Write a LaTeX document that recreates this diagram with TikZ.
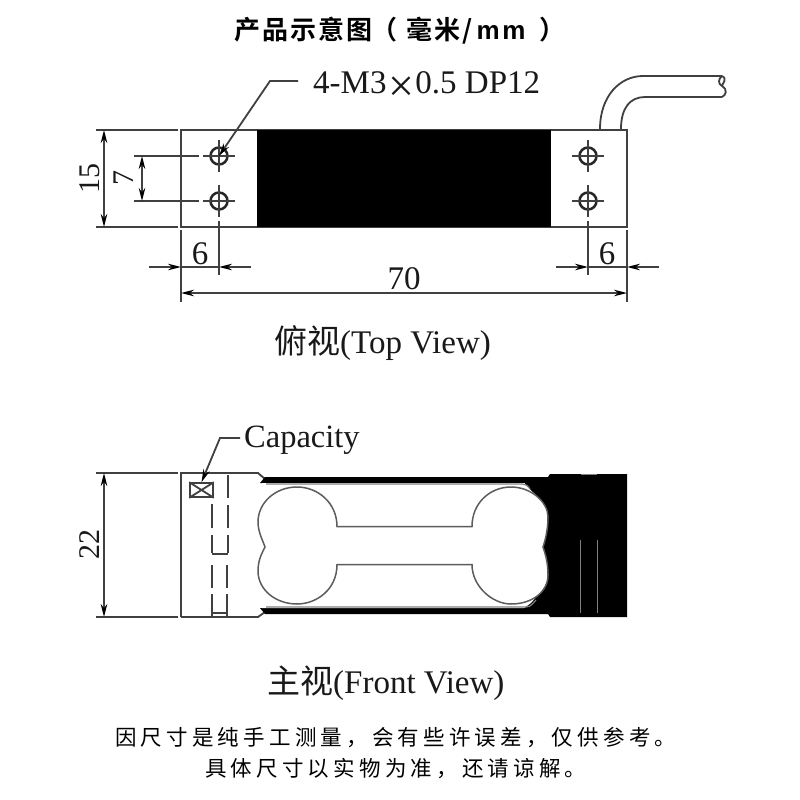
\documentclass[tikz,border=0pt]{standalone}
\usepackage{fontspec}
\setmainfont{Liberation Serif}
\newfontfamily\cjk{Noto Sans CJK SC}
\newfontfamily\cjkbody[LetterSpace=19.5]{Noto Sans CJK SC}
\newfontfamily\cjktitle[LetterSpace=8]{Noto Sans CJK SC Bold}
\newfontfamily\latintitle[LetterSpace=10]{Liberation Sans Bold}
\usetikzlibrary{arrows.meta}
\definecolor{ink}{gray}{0.25}
\tikzset{
  x=1pt,y=-1pt,
  ln/.style={draw=ink,line width=1.8pt},
  dim/.style={ln,{Stealth[length=13pt,width=6.5pt,color=black]}-{Stealth[length=13pt,width=6.5pt,color=black]}},
  tipr/.style={ln,-{Stealth[length=13pt,width=6.5pt,color=black]}},
  lbl/.style={inner sep=0pt,text=black!90,font=\fontsize{33}{33}\selectfont},
  rlbl/.style={inner sep=0pt,text=black!90,rotate=90,font=\fontsize{30}{30}\selectfont},
  hole/.style={circle,draw=black!85,line width=2.5pt,minimum size=17pt,inner sep=0pt},
  cl/.style={draw=ink,line width=1.3pt},
  body/.style={inner sep=0pt,font=\fontsize{21.5}{24}\selectfont\cjkbody},
}
\newcommand{\holeat}[3]{%
  \node[hole] (#1) at (#2,#3) {};
  \draw[cl] (#2-16,#3)--(#2+16,#3) (#2,#3-16)--(#2,#3+16);
}
\begin{document}
\begin{tikzpicture}
\useasboundingbox (0,0) rectangle (800,800);
\fill[white] (0,0) rectangle (800,800);
\node[inner sep=0pt,anchor=west] (title) at (234,31) {\fontsize{26}{26}\selectfont\cjktitle 产品示意图\kern-1pt（\kern9pt 毫米/\kern4pt\latintitle mm\kern14pt\cjktitle ）};
% top view
\draw[ln] (181,130) rectangle (627,227);
\fill[black] (257,130) rectangle (551,227);
\holeat{h1}{219}{156}
\holeat{h2}{219}{201}
\holeat{h3}{588}{156}
\holeat{h4}{588}{201}
% cable
\draw[ln] (600,129) .. controls (600,96) and (620,76) .. (643,76) -- (722,76);
\draw[ln] (621,129) .. controls (621,108) and (630,97) .. (645,97) -- (722,97);
\draw[ln] (722,76) .. controls (728,79) and (722,84) .. (722,86) .. controls (728,90) and (726,95) .. (722,97) (722,76) .. controls (718,79) and (718,84) .. (722,86);
% leader
\coordinate (k1) at (270,81);
\coordinate (k2) at (298,81);
\draw[tipr] (k2)--(k1)--(h1.center);
\node[lbl,anchor=base west] (spec) at (313,93) {4-M3\kern1.5pt\raisebox{-8pt}{\fontsize{46}{46}\selectfont ×}\kern1.5pt 0.5 DP12};
% dims top view
\coordinate (a1) at (96,130); \coordinate (a2) at (178,130);
\coordinate (a3) at (96,227); \coordinate (a4) at (178,227);
\draw[ln] (a1)--(a2) (a3)--(a4);
\coordinate (d15a) at (104,130); \coordinate (d15b) at (104,227);
\draw[dim] (d15a)--(d15b);
\node[rlbl] (n15) at (90,178) {15};
\coordinate (b1) at (134,156); \coordinate (b2) at (199,156);
\coordinate (b3) at (134,201); \coordinate (b4) at (199,201);
\draw[ln] (b1)--(b2) (b3)--(b4);
\coordinate (d7a) at (142,156); \coordinate (d7b) at (142,201);
\draw[dim] (d7a)--(d7b);
\node[rlbl] (n7) at (124,178) {7};
\coordinate (v1) at (181,230); \coordinate (v2) at (181,302);
\coordinate (v3) at (219,221); \coordinate (v4) at (219,275);
\coordinate (v5) at (588,221); \coordinate (v6) at (588,275);
\coordinate (v7) at (627,230); \coordinate (v8) at (627,302);
\draw[ln] (v1)--(v2) (v3)--(v4) (v5)--(v6) (v7)--(v8);
\coordinate (e1) at (149,267); \coordinate (e2) at (181,267);
\coordinate (e3) at (251,267); \coordinate (e4) at (219,267);
\draw[tipr] (e1)--(e2); \draw[tipr] (e3)--(e4); \draw[ln] (e2)--(e4);
\coordinate (f1) at (556,267); \coordinate (f2) at (588,267);
\coordinate (f3) at (659,267); \coordinate (f4) at (627,267);
\draw[tipr] (f1)--(f2); \draw[tipr] (f3)--(f4); \draw[ln] (f2)--(f4);
\node[lbl] (n6a) at (200,254) {6};
\node[lbl] (n6b) at (607,254) {6};
\coordinate (g1) at (181,293); \coordinate (g2) at (627,293);
\draw[dim] (g1)--(g2);
\node[lbl] (n70) at (404,279) {70};
\node[lbl,anchor=west] (cap1) at (274,343) {{\cjk\fontsize{33}{33}\selectfont 俯视}(Top View)};
% front view
\draw[ln] (181,617)--(181,473)--(258,473)--(265,479);
\draw[ln] (181,617)--(258,617)--(265,612);
\fill[black] (265,477) -- (548,477) -- (550,474) -- (627,474) -- (627,617) -- (550,617) -- (548,614) -- (265,614) -- (260,608) -- (525,608) -- (525,483) -- (260,483) -- cycle;
\fill[white] (262,483) -- (524,483) -- (530,489.5) -- (537,496) .. controls (544,503) and (548,510) .. (548,517) .. controls (548,530) and (545,541) .. (543,547) .. controls (545,553) and (548,562) .. (548,575) .. controls (548,583) and (544,589) .. (537,596) -- (531,603) -- (524,608) -- (262,608) -- cycle;
\draw[draw=gray,line width=1.2pt] (266,484)--(522,484) .. controls (527,485) .. (530,489);
\draw[draw=gray,line width=1.2pt] (266,607)--(522,607) .. controls (530,607) .. (536,600);
% bone
\draw[draw=ink!85,line width=1.5pt]
 (337,526.5) .. controls (337,503) and (318,487) .. (297,487)
 .. controls (275,487) and (258,503) .. (258,522)
 .. controls (258,532) and (263,541) .. (265,547)
 .. controls (262,553) and (258,560) .. (258,571)
 .. controls (258,590) and (276,604) .. (297,604)
 .. controls (316,604) and (337,590) .. (337,564.5)
 -- (472,564.5)
 .. controls (472,586) and (492,604) .. (511,604)
 .. controls (532,604) and (548,592) .. (548,575)
 .. controls (548,562) and (545,553) .. (543,547)
 .. controls (545,541) and (548,530) .. (548,517)
 .. controls (548,502) and (531,487) .. (511,487)
 .. controls (490,487) and (472,503) .. (472,526.5)
 -- cycle;
% hidden holes
\draw[ln,line width=2.4pt,dash pattern=on 23pt off 7pt] (228,475)--(228,553);
\draw[ln,line width=2.4pt,dash pattern=on 24pt off 7pt] (212,504)--(212,553);
\draw[ln] (212,554)--(228,554);
\draw[ln,dash pattern=on 23pt off 6pt] (212,565)--(212,617);
\draw[ln,dash pattern=on 23pt off 6pt] (227,565)--(227,617);
\draw[ln] (212,613)--(227,613);
% capacity
\node[draw=ink,line width=1.6pt,fill=white,minimum width=23pt,minimum height=14pt,inner sep=0pt] (capbox) at (201.5,490) {};
\draw[ln] (capbox.north west)--(capbox.south east) (capbox.south west)--(capbox.north east);
\coordinate (c1) at (220,438);
\coordinate (c2) at (240,438);
\draw[tipr] (c2)--(c1)--(capbox.north);
\node[lbl,anchor=west,font=\fontsize{32.5}{33}\selectfont] (capa) at (244,440) {Capacity};
% 22 dim
\coordinate (m1) at (96,473); \coordinate (m2) at (178,473);
\coordinate (m3) at (96,617); \coordinate (m4) at (178,617);
\draw[ln] (m1)--(m2) (m3)--(m4);
\coordinate (d22a) at (104,473); \coordinate (d22b) at (104,617);
\draw[dim] (d22a)--(d22b);
\node[rlbl] (n22) at (90,544) {22};
% marks in black block
\draw[gray,line width=0.8pt] (580,540)--(580,613) (597,540)--(597,613);
\draw[gray,line width=0.8pt] (581,474)--(597,474);
\node[lbl,anchor=west] (cap2) at (267,683) {{\cjk\fontsize{33}{33}\selectfont 主视}(Front View)};
\node[body,anchor=west] (t1) at (115,738) {因尺寸是纯手工测量，会有些许误差，仅供参考。};
\node[body,anchor=west] (t2) at (205,769) {具体尺寸以实物为准，还请谅解。};
\end{tikzpicture}
\end{document}
